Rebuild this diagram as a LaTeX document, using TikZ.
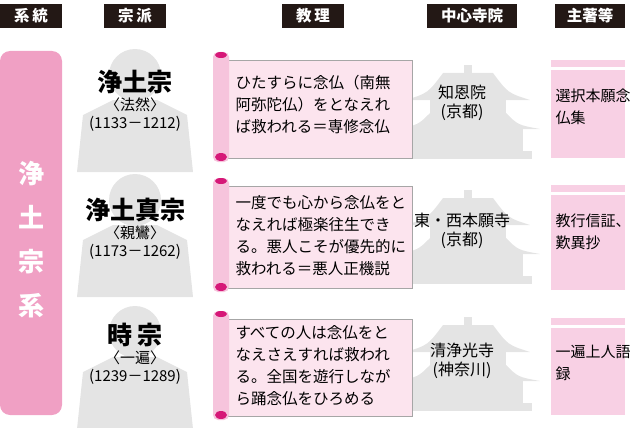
\documentclass[tikz,border=0pt]{standalone}
\usepackage{fontspec}
\setmainfont{Noto Sans CJK JP}
\usetikzlibrary{positioning}
\definecolor{sysPink}{RGB}{240,160,196}
\definecolor{paper}{RGB}{252,228,238}
\definecolor{roll}{RGB}{246,196,220}
\definecolor{rollEnd}{RGB}{214,24,120}
\definecolor{book}{RGB}{248,208,228}
\definecolor{sil}{RGB}{228,228,228}
\definecolor{head}{RGB}{35,24,21}
\newcommand{\person}[2]{%
  \fill[sil] (#1,#2-5) circle (26);
  \fill[sil] (#1-58,#2+92) -- (#1-52,#2+35) -- (#1-22,#2+20) -- (#1+22,#2+20) -- (#1+52,#2+35) -- (#1+58,#2+92) -- cycle;}
\newcommand{\temple}[2]{%
  \fill[sil] (#1-4,#2-40) rectangle (#1+4,#2-30);
  \fill[sil] (#1-62,#2-5) .. controls (#1-40,#2-12) .. (#1-25,#2-32) -- (#1+25,#2-32) .. controls (#1+40,#2-12) .. (#1+62,#2-5) -- cycle;
  \fill[sil] (#1-38,#2-5) rectangle (#1+38,#2+10);
  \fill[sil] (#1-72,#2+24) .. controls (#1-50,#2+20) .. (#1-38,#2+8) -- (#1+38,#2+8) .. controls (#1+50,#2+20) .. (#1+72,#2+24) -- cycle;
  \fill[sil] (#1-55,#2+24) rectangle (#1+55,#2+46);
  \fill[sil] (#1-64,#2+46) rectangle (#1+64,#2+54);}
\newcommand{\scroll}[2]{%
  \draw[gray!70,fill=paper] (228,#1+8) rectangle (412,#2-4);
  \fill[roll,rounded corners=5pt] (213,#1) rectangle (229,#2);
  \fill[rollEnd] (221,#1+3) ellipse (6 and 3);
  \fill[rollEnd] (221,#2-5) ellipse (6 and 4);}
\tikzset{
  hdr/.style={fill=head,text=white,font=\bfseries\fontsize{15.5}{15}\selectfont,minimum height=24pt,inner sep=0pt},
  sect/.style={align=center,font=\fontsize{15}{18}\selectfont},
  title/.style={font=\bfseries\fontsize{25}{26}\selectfont},
  doctrine/.style={align=left,anchor=north west,font=\fontsize{15.5}{22}\selectfont},
  work/.style={align=left,anchor=north west,font=\fontsize{15}{22}\selectfont},
  temp/.style={align=center,font=\fontsize{16}{19}\selectfont}
}
\begin{document}
\begin{tikzpicture}[x=1pt,y=-1pt]
\useasboundingbox (0,0) rectangle (640,428);
% headers
\node[hdr,minimum width=62pt] (hsys) at (31,16) {系\,統};
\node[hdr,minimum width=62pt] (hsect) at (135,16) {宗\,派};
\node[hdr,minimum width=62pt] (hdoc) at (313,16) {教\,理};
\node[hdr,minimum width=90pt] (htemp) at (472,16) {中心寺院};
\node[hdr,minimum width=70pt] (hwork) at (590,16) {主著等};
% system
\fill[sysPink,rounded corners=10pt] (0,51) rectangle (62,415);
\node[text=white,font=\bfseries\fontsize{26}{44}\selectfont,align=center] (sys) at (31,240) {浄\\土\\宗\\系};
% silhouettes
\person{135}{80}
\person{135}{205}
\person{135}{337}
\temple{468}{105}
\temple{468}{230}
\temple{468}{357}
% scrolls
\scroll{52}{162}
\scroll{178}{292}
\scroll{311}{420}
% books
\foreach \t/\b in {60/158,185/290,318/415}{
  \fill[book] (551,\t) rectangle (625,\t+7);
  \fill[book] (551,\t+10) rectangle (625,\b);}
% row 1
\node[title] (s1) at (135,82) {浄土宗};
\node[sect,below=-3pt of s1] (f1) {〈法然〉\\(1133－1212)};
\node[doctrine] (d1) at (232,72) {ひたすらに念仏（南無\\阿弥陀仏）をとなえれ\\ば救われる＝専修念仏};
\node[temp] (t1) at (462,103) {知恩院\\(京都)};
\node[work] (w1) at (552,85) {選択本願念\\仏集};
% row 2
\node[title] (s2) at (135,210) {浄土真宗};
\node[sect,below=-3pt of s2] (f2) {〈親鸞〉\\(1173－1262)};
\node[doctrine] (d2) at (232,192) {一度でも心から念仏をと\\なえれば極楽往生でき\\る。悪人こそが優先的に\\救われる＝悪人正機説};
\node[temp] (t2) at (462,231) {東・西本願寺\\(京都)};
\node[work] (w2) at (552,210) {教行信証、\\歎異抄};
% row 3
\node[title] (s3) at (135,335) {時\,宗};
\node[sect,below=-3pt of s3] (f3) {〈一遍〉\\(1239－1289)};
\node[doctrine] (d3) at (232,322) {すべての人は念仏をと\\なえさえすれば救われ\\る。全国を遊行しなが\\ら踊念仏をひろめる};
\node[temp] (t3) at (462,361) {清浄光寺\\(神奈川)};
\node[work] (w3) at (552,342) {一遍上人語\\録};
\end{tikzpicture}
\end{document}
